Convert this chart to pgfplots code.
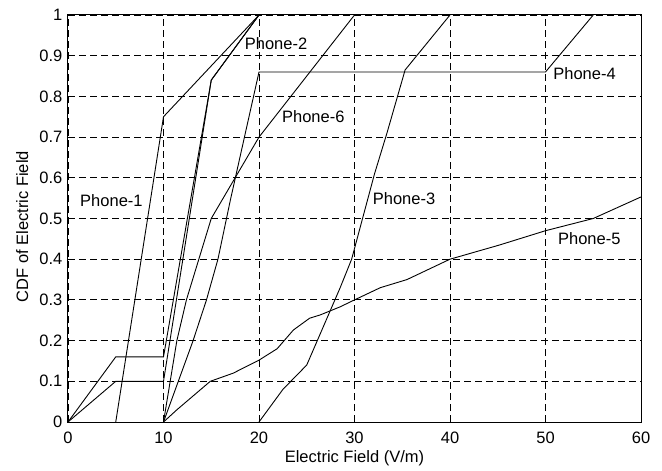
\documentclass[border=0pt]{standalone}
\usepackage{pgfplots}
\pgfplotsset{compat=1.18}
\usepackage{fontspec}
\setmainfont{Liberation Sans}
\begin{document}
\fontsize{16.5}{19}\selectfont
\begin{tikzpicture}[cdf/.style={black, solid, line width=0.9pt, mark=none}]
\begin{axis}[name=ax, scale only axis, width=573pt, height=407pt,
  xmin=0, xmax=60, ymin=0, ymax=1,
  xtick={0,10,20,30,40,50,60},
  ytick={0,0.1,0.2,0.3,0.4,0.5,0.6,0.7,0.8,0.9,1},
  grid=major,
  grid style={dash pattern=on 7pt off 4pt, line width=0.9pt, black},
  axis line style={line width=1pt, black},
  major tick length=0pt,
  /pgf/number format/assume math mode=true,
  tick label style={font=\fontsize{16.5}{19}\selectfont},
  xticklabel style={yshift=-4.5pt},
  label style={font=\fontsize{16.5}{19}\selectfont},
  xlabel={Electric Field (V/m)},
  ylabel={CDF of Electric Field},
  xlabel style={at={(axis description cs:0.5,-0.0983)}, anchor=base},
  ylabel style={at={(axis description cs:-0.0698,0.48)}, anchor=base},
]
\addplot[cdf] coordinates {(5,0) (10,0.75) (20,1)};
\addplot[cdf] coordinates {(0,0) (5,0.16) (10,0.16) (15,0.84) (20,1)};
\addplot[cdf] coordinates {(0,0) (5,0.1) (10,0.1) (15,0.84) (20,1)};
\addplot[cdf] coordinates {(10,0) (13.1,0.2) (14.5,0.3) (15.7,0.4) (17,0.545) (20,0.86) (50,0.86) (55,1)};
\addplot[cdf] coordinates {(10,0) (11.4,0.03) (14.9,0.1) (17.3,0.12) (20,0.152) (21.9,0.18) (23.6,0.226) (25.3,0.255) (26.4,0.263) (28.5,0.283) (30,0.3) (32.7,0.33) (35.5,0.35) (40,0.4) (45.2,0.435) (50,0.47) (55,0.5) (60,0.553)};
\addplot[cdf] coordinates {(10,0) (11.4,0.2) (12.4,0.3) (13.7,0.4) (15,0.5) (20,0.7) (30,1)};
\addplot[cdf] coordinates {(20,0) (22.5,0.08) (25,0.14) (28.5,0.33) (29.7,0.4) (32.1,0.61) (33.4,0.71) (35.3,0.865) (40,1)};
\node[anchor=west, inner sep=0pt] at (axis cs:1.26,0.545) {Phone-1};
\node[anchor=west, inner sep=0pt] at (axis cs:18.5,0.93) {Phone-2};
\node[anchor=west, inner sep=0pt] at (axis cs:31.9,0.55) {Phone-3};
\node[anchor=west, inner sep=0pt] at (axis cs:50.8,0.857) {Phone-4};
\node[anchor=west, inner sep=0pt] at (axis cs:51.3,0.45) {Phone-5};
\node[anchor=west, inner sep=0pt] at (axis cs:22.4,0.75) {Phone-6};
\end{axis}
\path ([xshift=-68pt,yshift=-46pt]ax.south west) rectangle ([xshift=21pt,yshift=15pt]ax.north east);
\end{tikzpicture}
\end{document}
